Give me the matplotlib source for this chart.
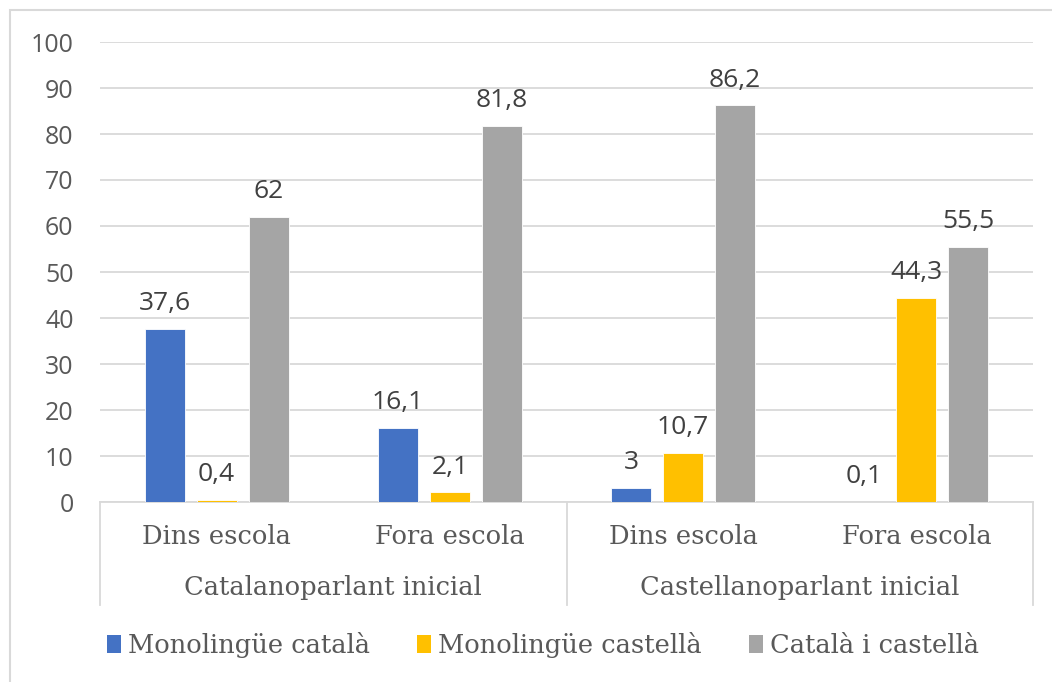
import numpy as np
import matplotlib.pyplot as plt
from matplotlib.patches import Rectangle, Patch

groups = ['Catalanoparlant inicial', 'Castellanoparlant inicial']
contexts = ['Dins escola', 'Fora escola', 'Dins escola', 'Fora escola']
series = ['Monolingüe català', 'Monolingüe castellà', 'Català i castellà']
mono_cat = [37.6, 16.1, 3, 0.1]
mono_cast = [0.4, 2.1, 10.7, 44.3]
cat_cast = [62, 81.8, 86.2, 55.5]
yticks = [0, 10, 20, 30, 40, 50, 60, 70, 80, 90, 100]

colors = ['#4472C4', '#FFC000', '#A5A5A5']
num_font = 'Open Sans'
txt_font = 'DejaVu Serif'

fig = plt.figure(figsize=(10.52, 6.82), dpi=100)
ax = fig.add_axes([100 / 1052, 180 / 682, 933 / 1052, 460 / 682])

# outer chart frame
fig.patches.append(Rectangle((10 / 1052, -0.1), 1.2, (672 / 682) + 0.1,
                             transform=fig.transFigure, fill=False,
                             edgecolor='#d9d9d9', linewidth=1.5))

x = np.arange(len(contexts))
w = 0.172
step = 0.223
for i, (vals, c) in enumerate(zip([mono_cat, mono_cast, cat_cast], colors)):
    pos = x + (i - 1) * step
    bars = ax.bar(pos, vals, width=w, color=c, edgecolor='white', linewidth=0.6, zorder=3)
    for b, v in zip(bars, vals):
        lab = f'{v:g}'.replace('.', ',')
        ax.annotate(lab, (b.get_x() + b.get_width() / 2, v), xytext=(0, 13.5),
                    textcoords='offset points', ha='center', va='baseline',
                    fontsize=19, color='#404040', family=num_font)

ax.set_xlim(-0.5, 3.5)
ax.set_ylim(0, 100)
ax.set_yticks(yticks)
ax.set_yticklabels([str(t) for t in yticks], fontsize=18, color='#595959', family=num_font)
ax.tick_params(axis='y', length=0, pad=19)
ax.set_xticks([])
ax.grid(axis='y', color='#d9d9d9', linewidth=1.3, zorder=0)
for s in ['left', 'right', 'top']:
    ax.spines[s].set_visible(False)
ax.spines['bottom'].set_color('#d9d9d9')
ax.spines['bottom'].set_linewidth(1.3)

# two-level category axis
tr = ax.get_xaxis_transform()
y_bot = -(605 - 502) / 460
for xv in [-0.5, 1.5, 3.5]:
    ax.plot([xv, xv], [0, y_bot], transform=tr, color='#d9d9d9', lw=1.3, clip_on=False)
for xi, lab in zip(x, contexts):
    ax.text(xi, -(537 - 502) / 460, lab, transform=tr, ha='center', va='center',
            fontsize=18.5, color='#595959', family=txt_font)
for gi, lab in enumerate(groups):
    ax.text(gi * 2 + 0.5, -(587 - 502) / 460, lab, transform=tr, ha='center', va='center',
            fontsize=18.5, color='#595959', family=txt_font)

handles = [Patch(facecolor=c, edgecolor='none') for c in colors]
fig.legend(handles, series, loc='center', bbox_to_anchor=(0.516, 1 - 645 / 682), ncol=3,
           frameon=False, handlelength=0.55, handleheight=0.7, handletextpad=0.25,
           columnspacing=1.85, prop={'family': txt_font, 'size': 18.5},
           labelcolor='#595959')

fig.savefig('out.png', dpi=100)
